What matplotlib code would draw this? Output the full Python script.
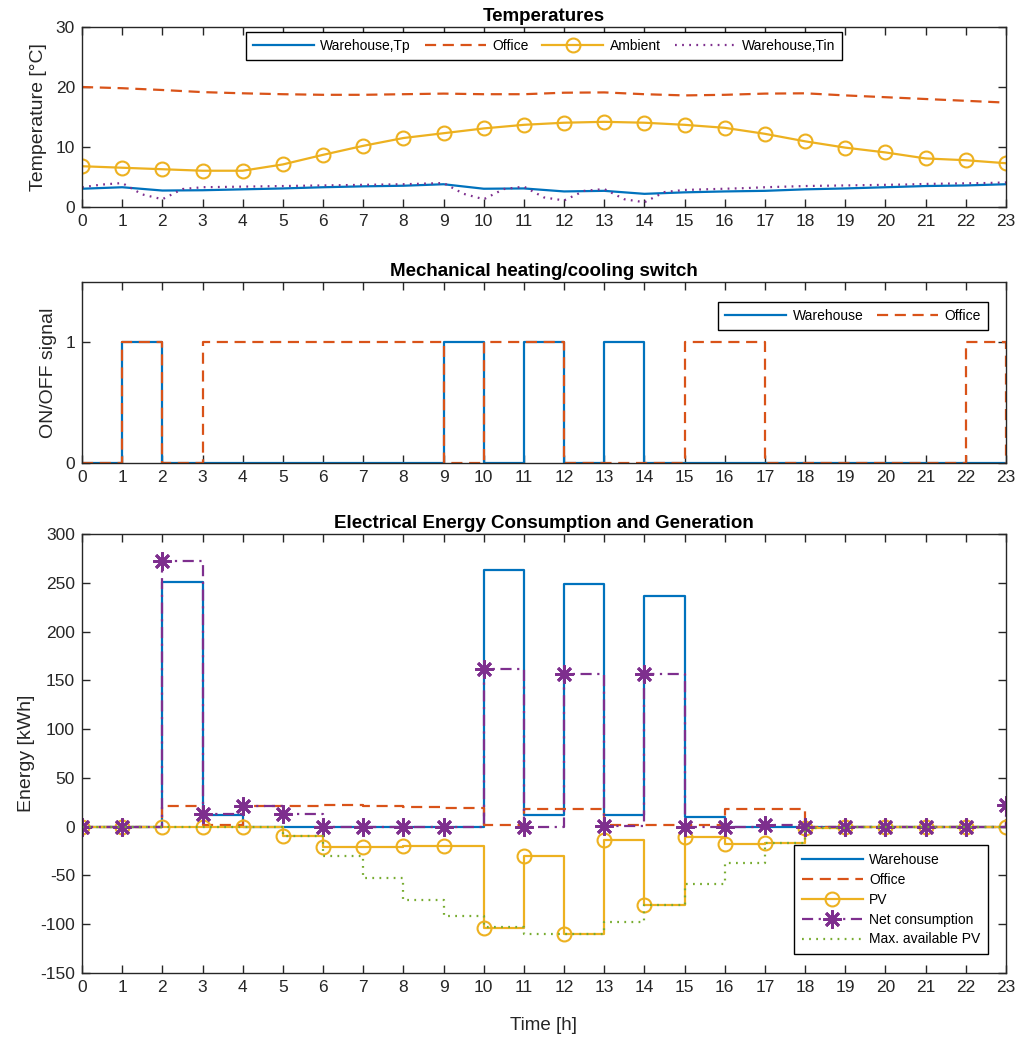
import matplotlib
matplotlib.use('Agg')
import matplotlib.pyplot as plt

plt.rcParams['font.family'] = ['Liberation Sans', 'DejaVu Sans']
plt.rcParams['axes.unicode_minus'] = False

# Colours (MATLAB default order)
c_blue = '#0072BD'
c_red = '#D95319'
c_yellow = '#EDB120'
c_purple = '#7E2F8E'
c_green = '#77AC30'
c_axis = '#262626'

hours = list(range(24))

# Temperatures [°C]
temp_warehouse_tp = [3.05, 3.3, 2.75, 2.8, 2.95, 3.1, 3.3, 3.45, 3.55, 3.8, 3.05, 3.1,
                     2.6, 2.7, 2.2, 2.45, 2.6, 2.7, 2.95, 3.1, 3.3, 3.5, 3.6, 3.8]
temp_office = [20.0, 19.8, 19.5, 19.15, 18.95, 18.8, 18.7, 18.7, 18.8, 18.9, 18.8, 18.8,
               19.05, 19.1, 18.8, 18.6, 18.7, 18.9, 18.95, 18.6, 18.3, 18.0, 17.7, 17.4]
temp_ambient = [6.8, 6.55, 6.3, 6.05, 6.05, 7.1, 8.7, 10.2, 11.5, 12.3, 13.1, 13.7,
                14.05, 14.2, 14.05, 13.7, 13.2, 12.2, 10.95, 9.9, 9.1, 8.1, 7.8, 7.3]
tin_hours = [0, 0.5, 1, 1.5, 2, 2.5, 3, 3.5, 4, 4.5, 5, 5.5, 6, 6.5, 7, 7.5, 8, 8.5,
             9, 9.5, 10, 10.5, 11, 11.5, 12, 12.5, 13, 13.5, 14, 14.5, 15, 15.5, 16,
             16.5, 17, 17.5, 18, 18.5, 19, 19.5, 20, 20.5, 21, 21.5, 22, 22.5, 23]
temp_warehouse_tin = [3.3, 3.75, 4.0, 2.1, 1.3, 3.0, 3.3, 3.35, 3.4, 3.45, 3.5, 3.55,
                      3.6, 3.65, 3.7, 3.75, 3.8, 3.9, 4.0, 2.2, 1.3, 3.0, 3.4, 1.6,
                      1.1, 2.7, 3.0, 1.3, 0.8, 2.5, 2.85, 2.95, 3.05, 3.15, 3.3, 3.4,
                      3.5, 3.55, 3.6, 3.65, 3.7, 3.75, 3.85, 3.9, 3.95, 4.0, 4.1]

# ON/OFF switch signals
switch_warehouse = [0, 1, 0, 0, 0, 0, 0, 0, 0, 1, 0, 1, 0, 1, 0, 0, 0, 0, 0, 0, 0, 0, 0, 0]
switch_office = [0, 1, 0, 1, 1, 1, 1, 1, 1, 0, 1, 1, 0, 0, 0, 1, 1, 0, 0, 0, 0, 0, 1, 0]

# Electrical energy [kWh]
energy_warehouse = [0, 0, 251, 12, 0, 0, 0, 0, 0, 0, 263, 12, 249, 12, 236, 10,
                    0, 0, 0, 0, 0, 0, 0, 0]
energy_office = [0, 0, 21, 1.5, 21.5, 21, 22, 21, 20, 19, 1.5, 18, 18, 1.5, 1.5, 1.5,
                 18, 18.5, 0, 0, 0, 0, 0, 21]
energy_pv = [0, 0, 0, 0, 0, -10, -21, -21, -20, -20, -104, -30, -110, -14, -80, -11,
             -18, -17, -1, 0, 0, 0, 0, 0]
energy_net = [0, 0, 272, 13, 21, 13, 0, 0, 0, 0, 162, 0, 157, 1, 157, 0, 0, 2,
              0, 0, 0, 0, 0, 22]
energy_pv_max = [0, 0, 0, 0, 0, -10, -30, -53, -75, -92, -103, -110, -110, -98, -80, -59,
                 -37, -17, -1, 0, 0, 0, 0, 0]

fig = plt.figure(figsize=(10.24, 10.42), dpi=100)
ax1 = fig.add_axes([0.0801, 0.8013, 0.9023, 0.1728])
ax2 = fig.add_axes([0.0801, 0.5557, 0.9023, 0.1737])
ax3 = fig.add_axes([0.0801, 0.0662, 0.9023, 0.4213])

lw = 1.6
dash = (5, 3)
dot = (0.8, 2.4)
dashdot = (5, 2.5, 1, 2.5)

legend_kw = dict(fontsize=10, fancybox=False, framealpha=1, handlelength=4.4,
                 handletextpad=0.45, borderaxespad=0)


def style_axes(ax):
    ax.set_xlim(0, 23)
    ax.set_xticks(hours)
    ax.tick_params(direction='in', top=True, right=True, length=6, width=1,
                   labelsize=12.5, colors=c_axis, pad=5)
    for spine in ax.spines.values():
        spine.set_color(c_axis)
        spine.set_linewidth(1)


def style_legend(leg):
    leg.get_frame().set_edgecolor('black')
    leg.get_frame().set_linewidth(1)


# Temperatures
ax1.plot(hours, temp_warehouse_tp, color=c_blue, lw=lw, label='Warehouse,Tp')
ax1.plot(hours, temp_office, color=c_red, lw=lw, dashes=dash, label='Office')
ax1.plot(hours, temp_ambient, color=c_yellow, lw=lw, marker='o', markersize=10,
         markerfacecolor='none', markeredgewidth=1.5, label='Ambient')
ax1.plot(tin_hours, temp_warehouse_tin, color=c_purple, lw=lw, dashes=dot, label='Warehouse,Tin')
style_axes(ax1)
ax1.set_ylim(0, 30)
ax1.set_yticks([0, 10, 20, 30])
ax1.set_ylabel('Temperature [°C]', fontsize=14, color=c_axis, labelpad=6)
ax1.set_title('Temperatures', fontsize=13.5, fontweight='bold', pad=4)
leg = ax1.legend(loc='upper center', bbox_to_anchor=(0.5, 0.97), ncol=4,
                 columnspacing=1.0, borderpad=0.5, **legend_kw)
style_legend(leg)

# Mechanical heating/cooling switch
ax2.step(hours, switch_warehouse, where='post', color=c_blue, lw=lw, label='Warehouse')
ax2.step(hours, switch_office, where='post', color=c_red, lw=lw, dashes=dash, label='Office')
style_axes(ax2)
ax2.set_ylim(0, 1.5)
ax2.set_yticks([0, 1])
ax2.set_ylabel('ON/OFF signal', fontsize=14, color=c_axis, labelpad=6)
ax2.set_title('Mechanical heating/cooling switch', fontsize=13.5, fontweight='bold', pad=4)
leg = ax2.legend(loc='upper right', bbox_to_anchor=(0.9805, 0.889), ncol=2,
                 columnspacing=1.0, borderpad=0.5, **legend_kw)
style_legend(leg)

# Electrical energy consumption and generation
ax3.step(hours, energy_warehouse, where='post', color=c_blue, lw=lw, label='Warehouse')
ax3.step(hours, energy_office, where='post', color=c_red, lw=lw, dashes=dash, label='Office')
ax3.step(hours, energy_pv, where='post', color=c_yellow, lw=lw, marker='o', markersize=10,
         markerfacecolor='none', markeredgewidth=1.5, label='PV')
ax3.step(hours, energy_net, where='post', color=c_purple, lw=lw, dashes=dashdot,
         marker=(8, 2, 0), markersize=13, markeredgewidth=2, label='Net consumption')
ax3.step(hours, energy_pv_max, where='post', color=c_green, lw=lw, dashes=dot,
         label='Max. available PV')
style_axes(ax3)
ax3.set_ylim(-150, 300)
ax3.set_yticks(range(-150, 301, 50))
ax3.set_ylabel('Energy [kWh]', fontsize=14, color=c_axis, labelpad=4)
ax3.set_xlabel('Time [h]', fontsize=13.5, color=c_axis, labelpad=16)
ax3.set_title('Electrical Energy Consumption and Generation', fontsize=13.5,
              fontweight='bold', pad=4)
leg = ax3.legend(loc='lower right', bbox_to_anchor=(0.9805, 0.0433), labelspacing=0.42,
                 borderpad=0.55, **legend_kw)
style_legend(leg)

fig.savefig('out.png', dpi=100)
